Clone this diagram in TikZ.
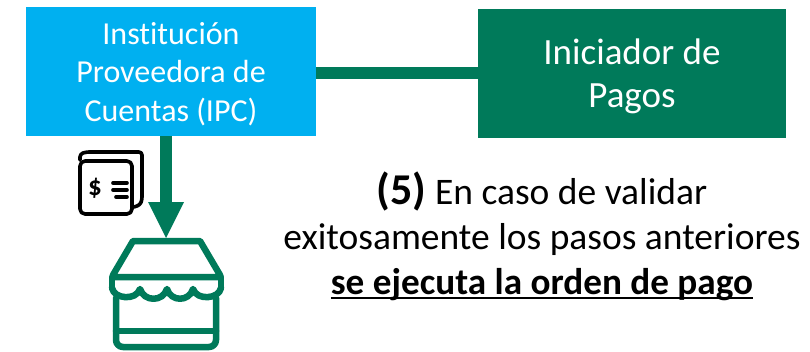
\documentclass[tikz,border=0pt]{standalone}
\usepackage{fontspec}
\setmainfont[Ligatures=NoCommon]{Carlito}
\usetikzlibrary{arrows.meta}
\definecolor{pgreen}{HTML}{007A5A}
\definecolor{pblue}{HTML}{00B0F0}
\newcommand\thickul[1]{\leavevmode\vtop{\hbox{#1}\kern-4pt\hrule height 2.6pt}}
\tikzset{
 x=1pt,y=-1pt,
 boxn/.style={draw=none,inner sep=0pt,align=center,text=white},
 link/.style={draw=pgreen,line width=12pt},
 doc/.style={draw=black,line width=3.6pt,line join=round,line cap=round},
 shop/.style={draw=pgreen,line width=6.5pt,line join=round,line cap=round},
}
\begin{document}
\begin{tikzpicture}
\useasboundingbox (0,0) rectangle (810,351);
\node[boxn,fill=pblue,minimum width=290pt,minimum height=129pt] (ipc) at (171,71.5) {};
\node[inner sep=0pt,align=center,text=white,font=\fontsize{32}{38.5}\selectfont] (ipct) at (171,74) {Institución\\Proveedora de\\Cuentas (IPC)};
\node[boxn,fill=pgreen,minimum width=308pt,minimum height=129pt] (ini) at (632,73.5) {};
\node[inner sep=0pt,align=center,text=white,font=\fontsize{37}{43}\selectfont] (init) at (632,76.5) {Iniciador de\\Pagos};
\coordinate (mid) at (ini.west |- 0,73);
\draw[link] (ipc.east |- mid) -- (mid);
\coordinate (tip) at (166,238);
\fill[pgreen] (148,202) -- (184,202) -- (tip) -- cycle;
\draw[link] (ipc.south -| tip) -- (166,203);
\node[inner sep=0pt,align=center,font=\fontsize{37.5}{45}\selectfont] (txt) at (542,235.5) {{\fontsize{44}{45}\selectfont\textbf{(5)}} En caso de validar\\exitosamente los pasos anteriores\\\thickul{\fontsize{37.2}{45}\selectfont\textbf{se ejecuta la orden de pago}}};
% document icon
\draw[doc,rounded corners=3pt] (134,207) -- (140,205) -- (142,200) -- (142,152) -- (86,152) -- (80,154) -- (80,160);
\draw[doc,fill=white,rounded corners=5pt] (80,161) rectangle (132,214);
\node[inner sep=0pt,font=\fontsize{27}{27}\selectfont\bfseries] (dollar) at (95,188) {\$};
\foreach \yy/\a/\b in {183/113/127,190/113/127,197/116/127}{
 \draw[black,line width=3.6pt,line cap=round] (\a,\yy) -- (\b,\yy);
}
% store icon
\draw[shop] (133,241) -- (200,241) -- (220,275) -- (220,277) -- (113,277) -- (113,275) -- cycle;
\draw[shop] (112,277) -- (112,288);
\draw[shop] (221,277) -- (221,288);
\draw[shop] (112,288) .. controls (114,299) and (136,301) .. (140,289) .. controls (144,302) and (163,302) .. (167,289) .. controls (171,302) and (189,302) .. (193,289) .. controls (197,301) and (219,299) .. (221,288);
\draw[shop,rounded corners=7pt] (116,298) -- (116,347) -- (216,347) -- (216,298);
\draw[shop] (116,331) -- (216,331);
\end{tikzpicture}
\end{document}
